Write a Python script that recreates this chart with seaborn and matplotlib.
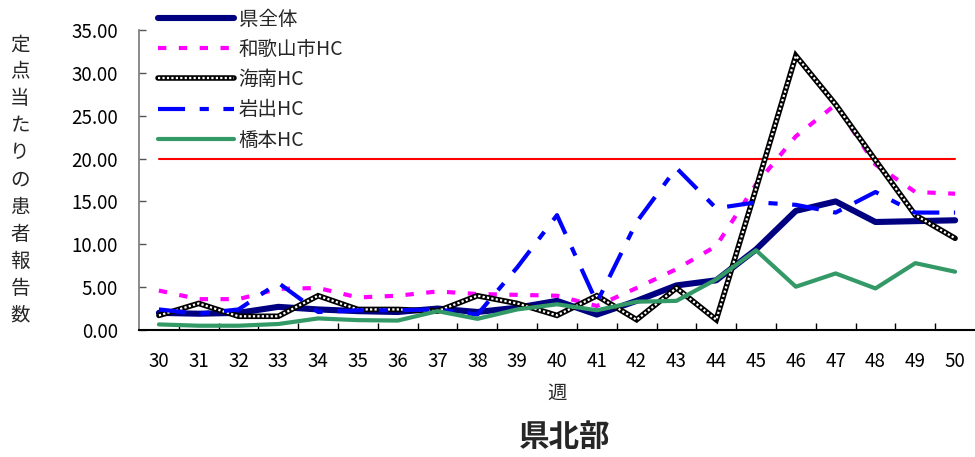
import matplotlib
matplotlib.use("Agg")
import matplotlib.pyplot as plt
from matplotlib.ticker import FixedLocator, FormatStrFormatter
import seaborn as sns

# 週ごとの定点当たり患者報告数（県北部）
weeks = list(range(30, 51))
ken_zentai = [2.0, 1.9, 2.0, 2.7, 2.4, 2.2, 2.1, 2.5, 2.1, 2.6, 3.4,
              1.8, 3.4, 5.2, 5.8, 9.4, 13.9, 15.0, 12.6, 12.7, 12.8]
wakayama_hc = [4.6, 3.6, 3.6, 4.8, 4.9, 3.8, 4.0, 4.5, 4.2, 4.1, 4.0,
               2.8, 4.9, 7.1, 9.8, 17.0, 22.6, 26.3, 19.3, 16.1, 15.9]
kainan_hc = [1.7, 3.1, 1.6, 1.6, 4.0, 2.4, 2.4, 2.2, 4.0, 3.1, 1.7,
             4.0, 1.2, 4.9, 1.2, 16.5, 32.0, 26.3, 19.8, 13.4, 10.7]
iwade_hc = [2.4, 1.9, 2.4, 5.5, 2.1, 2.3, 2.3, 2.4, 1.8, 7.3, 13.4,
            3.2, 12.6, 18.9, 14.2, 14.9, 14.6, 13.7, 16.1, 13.7, 13.7]
hashimoto_hc = [0.65, 0.5, 0.5, 0.7, 1.35, 1.15, 1.1, 2.2, 1.3, 2.4, 3.0,
                2.3, 3.3, 3.4, 5.9, 9.3, 5.05, 6.6, 4.85, 7.8, 6.8]
alert_level = 20.0
labels = ["県全体", "和歌山市HC", "海南HC", "岩出HC", "橋本HC"]
y_ticks = [0, 5, 10, 15, 20, 25, 30, 35]
ylabel_text = "定点当たりの患者報告数"

sns.set_theme(style="white")
plt.rcParams["font.family"] = ["Noto Sans CJK JP", "DejaVu Sans"]

W, H = 975, 457
fig = plt.figure(figsize=(W / 100, H / 100), dpi=100)
ax = fig.add_axes([139 / W, 1 - 330 / H, (975 - 139) / W, 300 / H])

sns.lineplot(x=weeks, y=[alert_level] * len(weeks), ax=ax, color="#FF0000",
             linewidth=1.5, zorder=1)
sns.lineplot(x=weeks, y=ken_zentai, ax=ax, color="#000080", linewidth=4.4,
             solid_capstyle="round", solid_joinstyle="round", zorder=2)
sns.lineplot(x=weeks, y=wakayama_hc, ax=ax, color="#FF00FF", linewidth=3.0,
             linestyle=(0, (2.0, 3.0)), dash_capstyle="butt", zorder=3)
sns.lineplot(x=weeks, y=kainan_hc, ax=ax, color="black", linewidth=4.0,
             solid_joinstyle="miter", zorder=4)
sns.lineplot(x=weeks, y=kainan_hc, ax=ax, color="white", linewidth=1.6,
             linestyle=(0, (1.0, 1.0)), zorder=4.1)
sns.lineplot(x=weeks, y=iwade_hc, ax=ax, color="#0000FF", linewidth=3.0,
             linestyle=(0, (6.5, 3.5, 2.2, 3.5)), dash_capstyle="butt", zorder=5)
sns.lineplot(x=weeks, y=hashimoto_hc, ax=ax, color="#339966", linewidth=3.0,
             solid_capstyle="round", zorder=6)

ax.set_xlim(29.5, 50.5)
ax.set_ylim(0, 35)
ax.set_xticks(weeks)
ax.set_xticklabels([str(w) for w in weeks])
ax.xaxis.set_minor_locator(FixedLocator([w + 0.5 for w in weeks[:-1]]))
ax.set_yticks(y_ticks)
ax.yaxis.set_major_formatter(FormatStrFormatter("%.2f"))
ax.tick_params(axis="x", which="major", length=0, pad=15, labelsize=13.5,
               colors="black")
ax.tick_params(axis="x", which="minor", direction="in", length=5, width=1,
               color="black", bottom=True)
ax.tick_params(axis="y", which="major", direction="in", length=5, width=1,
               pad=15, labelsize=13.5, colors="black", left=True)
ax.tick_params(axis="y", which="major", color="#555555")
for side in ("top", "right"):
    ax.spines[side].set_visible(False)
ax.spines["left"].set_color("#777777")
ax.spines["left"].set_linewidth(1.2)
ax.spines["bottom"].set_color("black")
ax.spines["bottom"].set_linewidth(1.5)
ax.set_xlabel("")
ax.set_ylabel("")
ax.grid(False)

# 凡例（海南HCは二重線の組み合わせで表示）
ln = ax.get_lines()
handles = [ln[1], ln[2], (ln[3], ln[4]), ln[5], ln[6]]
leg = fig.legend(handles, labels, loc="upper left",
                 bbox_to_anchor=(158 / W, 1 - 9 / H), frameon=False,
                 prop={"size": 14}, handlelength=3.9, handletextpad=0.25,
                 labelspacing=0.47, borderpad=0, borderaxespad=0)

# 縦書きの軸ラベル
for i, ch in enumerate(ylabel_text):
    fig.text(20 / W, 1 - (45 + 27 * i) / H, ch, ha="center", va="center",
             fontsize=14)

fig.text(557 / W, 1 - 393 / H, "週", ha="center", va="center", fontsize=14)
fig.text(565 / W, 1 - 437 / H, "県北部", ha="center", va="center",
         fontsize=22, fontweight="bold")

fig.savefig("out.png", dpi=100)
